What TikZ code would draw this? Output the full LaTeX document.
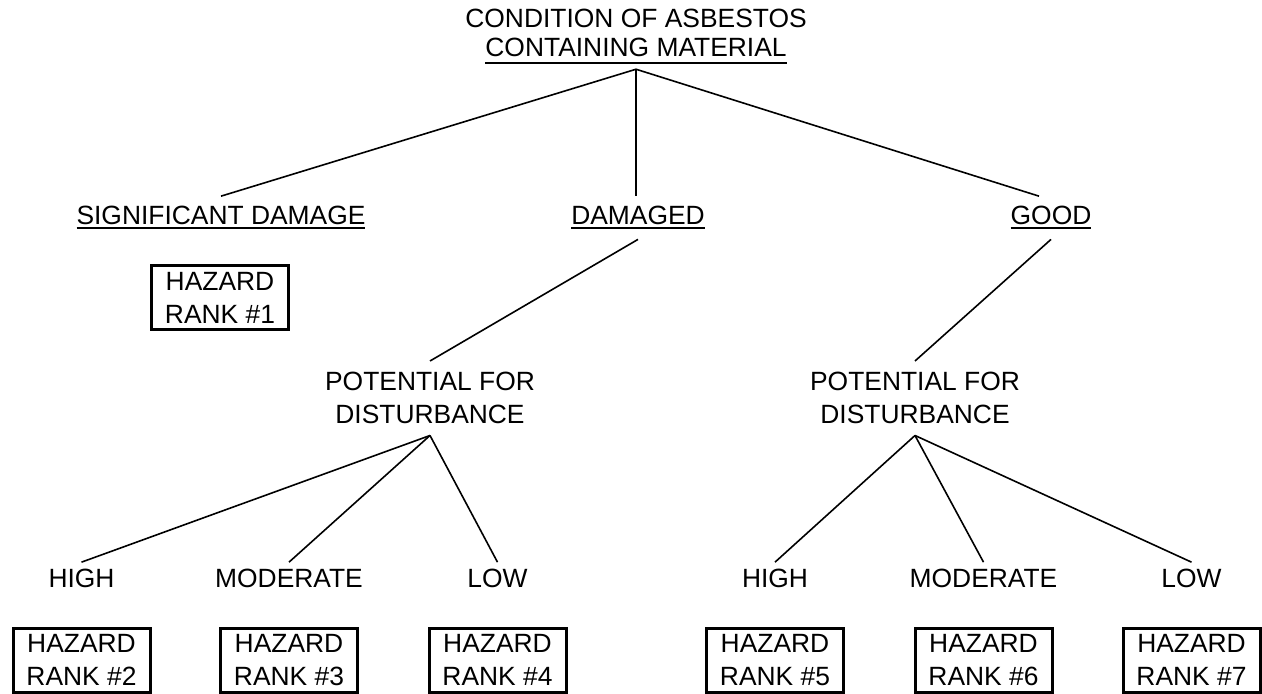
\documentclass[tikz,border=0pt]{standalone}
\usepackage{fontspec}
\setmainfont{Liberation Sans}
\usepackage{tikz}
\newcommand{\ulabel}[2]{\setbox0\hbox{#2}\rlap{\rule[#1]{\wd0}{1pt}}\box0}
\newcommand{\widthrank}{68.5pt}
\newcommand{\heightrank}{32pt}
\tikzset{
    common/.style={font=\fontsize{13.2pt}{16.5pt}\selectfont, inner xsep=0pt},
    heading/.style={common, anchor=base, inner ysep=5pt},
    choice/.style={common, anchor=base, inner ysep=3pt},
    factor/.style={common, anchor=north, align=center, inner ysep=5.5pt},
    rank/.style={common, draw, line width=1.5pt, align=center, minimum width=\widthrank, minimum height=\heightrank, inner sep=0pt},
    branch/.style={line width=0.8pt}
}

\begin{document}
\begin{tikzpicture}[x=0.5pt, y=-0.5pt]
    \useasboundingbox (0,0) rectangle (1262,694);

    \node[common, anchor=north, align=center, inner ysep=2.5pt, font=\fontsize{13.2pt}{14.5pt}\selectfont] (title) at (636,4)
        {CONDITION OF ASBESTOS\\\ulabel{-3.5pt}{CONTAINING MATERIAL}};

    \node[heading] (sig-dmg) at (221,225) {\ulabel{-2pt}{SIGNIFICANT DAMAGE}};
    \node[heading] (dmg) at (638,225) {\ulabel{-2pt}{DAMAGED}};
    \node[heading] (good) at (1051,225) {\ulabel{-2pt}{GOOD}};

    \node[rank] (rank-1) at (220,298) {HAZARD\\RANK \#1};

    \node[factor] (pot-dmg) at (430,361) {POTENTIAL FOR\\DISTURBANCE};
    \node[factor] (pot-good) at (915,361) {POTENTIAL FOR\\DISTURBANCE};

    \node[choice] (high-dmg) at (81.5,587) {HIGH};
    \node[choice] (mod-dmg) at (289,587) {MODERATE};
    \node[choice] (low-dmg) at (497.5,587) {LOW};
    \node[choice] (high-good) at (775,587) {HIGH};
    \node[choice] (mod-good) at (983.5,587) {MODERATE};
    \node[choice] (low-good) at (1191.5,587) {LOW};

    \node[rank] (rank-2) at (81.5,660) {HAZARD\\RANK \#2};
    \node[rank] (rank-3) at (289,660) {HAZARD\\RANK \#3};
    \node[rank] (rank-4) at (497.5,660) {HAZARD\\RANK \#4};
    \node[rank] (rank-5) at (775,660) {HAZARD\\RANK \#5};
    \node[rank] (rank-6) at (983.5,660) {HAZARD\\RANK \#6};
    \node[rank] (rank-7) at (1191.5,660) {HAZARD\\RANK \#7};

    \draw[branch] (title.south) -- (sig-dmg.north);
    \draw[branch] (title.south) -- (title.south |- dmg.north);
    \draw[branch] (title.south) -- ([xshift=-6pt]good.north);
    \draw[branch] (dmg.south) -- (pot-dmg.north);
    \draw[branch] (good.south) -- (pot-good.north);
    \draw[branch] (pot-dmg.south) -- (high-dmg.north);
    \draw[branch] (pot-dmg.south) -- (mod-dmg.north);
    \draw[branch] (pot-dmg.south) -- (low-dmg.north);
    \draw[branch] (pot-good.south) -- (high-good.north);
    \draw[branch] (pot-good.south) -- (mod-good.north);
    \draw[branch] (pot-good.south) -- (low-good.north);
\end{tikzpicture}
\end{document}
